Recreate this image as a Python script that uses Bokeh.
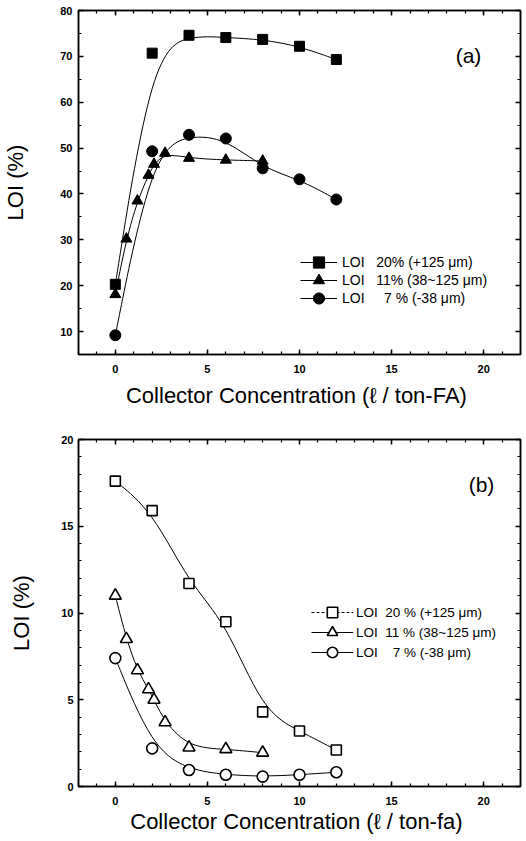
import numpy as np
from bokeh.plotting import figure
from bokeh.layouts import column
from bokeh.models import (Range1d, LinearAxis, SingleIntervalTicker, Legend,
                          LegendItem, Label, CustomLabelingPolicy)
from bokeh.embed import file_html
from bokeh.resources import INLINE

# ---------------- data ----------------
# panel (a)
a_sq_x = [0, 2, 4, 6, 8, 10, 12]
a_sq_y = [20.3, 70.7, 74.6, 74.1, 73.7, 72.2, 69.3]
a_tri_x = [0, 0.6, 1.2, 1.8, 2.1, 2.7, 4, 6, 8]
a_tri_y = [18.1, 30.2, 38.5, 44.1, 46.5, 48.9, 47.8, 47.4, 47.2]
a_cir_x = [0, 2, 4, 6, 8, 10, 12]
a_cir_y = [9.2, 49.3, 52.9, 52.1, 45.6, 43.2, 38.8]
a_labels = ["LOI\u00a0\u00a0\u00a020% (+125 \u03bcm)",
            "LOI\u00a0\u00a0\u00a011% (38~125 \u03bcm)",
            "LOI\u00a0\u00a0\u00a0\u20077 % (-38 \u03bcm)"]

# panel (b)
b_sq_x = [0, 2, 4, 6, 8, 10, 12]
b_sq_y = [17.6, 15.9, 11.7, 9.5, 4.3, 3.2, 2.1]
b_tri_x = [0, 0.6, 1.2, 1.8, 2.1, 2.7, 4, 6, 8]
b_tri_y = [11.0, 8.5, 6.7, 5.6, 5.0, 3.7, 2.25, 2.15, 1.95]
b_cir_x = [0, 2, 4, 6, 8, 10, 12]
b_cir_y = [7.4, 2.2, 0.95, 0.68, 0.57, 0.68, 0.82]
b_labels = ["LOI\u00a0\u00a020 % (+125 \u03bcm)",
            "LOI\u00a0\u00a011 % (38~125 \u03bcm)",
            "LOI\u00a0\u00a0\u20077 % (-38 \u03bcm)"]

FONT = "Liberation Sans"


def bspline_bezier(xs, ys):
    """Cubic B-spline (end points tripled) with the data as control
    points, returned as Bezier segments for p.bezier."""
    px = [xs[0]] * 2 + list(xs) + [xs[-1]] * 2
    py = [ys[0]] * 2 + list(ys) + [ys[-1]] * 2
    out = {k: [] for k in ("x0", "y0", "x1", "y1", "cx0", "cy0", "cx1", "cy1")}
    for i in range(len(px) - 3):
        for arr, kx in ((px, "x"), (py, "y")):
            p0, p1, p2, p3 = arr[i:i + 4]
            out[kx + "0"].append((p0 + 4 * p1 + p2) / 6)
            out["c" + kx + "0"].append((2 * p1 + p2) / 3)
            out["c" + kx + "1"].append((p1 + 2 * p2) / 3)
            out[kx + "1"].append((p1 + 4 * p2 + p3) / 6)
    return out


NO_LABELS = CustomLabelingPolicy(code="return new Set()")


def style_axis(ax, labels=True):
    ax.axis_line_color = "black"
    ax.axis_line_width = 1.5
    ax.major_tick_line_color = "black"
    ax.major_tick_line_width = 1.5
    ax.minor_tick_line_color = "black"
    ax.minor_tick_line_width = 1.2
    ax.major_tick_in = 5
    ax.major_tick_out = 0
    ax.minor_tick_in = 3
    ax.minor_tick_out = 0
    ax.major_label_text_font = FONT
    ax.major_label_text_font_style = "bold"
    ax.major_label_text_color = "black"
    ax.axis_label_text_font = FONT
    ax.axis_label_text_font_style = "normal"
    ax.axis_label_text_font_size = "22px"
    ax.axis_label_text_color = "black"
    if labels:
        ax.major_label_text_font_size = "11px"
    else:
        ax.major_label_text_font_size = "1px"
        ax.major_label_policy = NO_LABELS
        ax.major_label_standoff = 0


def make_panel(h, bt, bb, bl, yr, y_int, y_minor, xlabel,
               sx, sy, tx, ty, cx, cy, filled, labels, opt, tag):
    p = figure(width=524, height=h, x_range=Range1d(-2, 22),
               y_range=Range1d(*yr), output_backend="svg",
               toolbar_location=None, min_border_left=bl,
               min_border_right=2, min_border_top=bt, min_border_bottom=bb)
    p.grid.visible = False
    p.outline_line_color = "black"
    p.outline_line_width = 1.5
    p.background_fill_color = "white"
    p.border_fill_color = "white"

    p.xaxis.ticker = SingleIntervalTicker(interval=5, num_minor_ticks=5)
    p.yaxis.ticker = SingleIntervalTicker(interval=y_int,
                                          num_minor_ticks=y_minor)
    p.xaxis.axis_label = xlabel
    p.yaxis.axis_label = "LOI (%)"
    for ax in p.xaxis + p.yaxis:
        style_axis(ax)
    p.xaxis.major_label_standoff = 10
    p.xaxis.axis_label_standoff = opt["xls"]
    p.yaxis.major_label_standoff = opt["yms"]
    p.yaxis.axis_label_standoff = opt["yls"]

    top = LinearAxis(ticker=SingleIntervalTicker(interval=5, num_minor_ticks=5))
    right = LinearAxis(ticker=SingleIntervalTicker(interval=y_int,
                                                   num_minor_ticks=y_minor))
    for ax in (top, right):
        style_axis(ax, labels=False)
    p.add_layout(top, "above")
    p.add_layout(right, "right")

    # smooth connecting curves
    for xs, ys in ((sx, sy), (tx, ty), (cx, cy)):
        seg = bspline_bezier(xs, ys)
        p.bezier(source=seg, x0="x0", y0="y0", x1="x1", y1="y1",
                 cx0="cx0", cy0="cy0", cx1="cx1", cy1="cy1",
                 line_color="black", line_width=1)

    fill = "black" if filled else "white"
    lw = 1 if filled else 1.6
    r_sq = p.scatter(sx, sy, marker="square", size=10, fill_color=fill,
                     line_color="black", line_width=lw)
    r_tr = p.scatter(tx, ty, marker="triangle", size=11 if filled else 12,
                     fill_color=fill, line_color="black", line_width=lw)
    r_ci = p.scatter(cx, cy, marker="circle", size=11, fill_color=fill,
                     line_color="black", line_width=lw)

    # one-point lines: draw nothing in the plot, give the legend its line
    l1 = p.line(x=sx[:1], y=sy[:1], line_color="black", line_width=1,
                line_dash=opt["dash0"])
    l2 = p.line(x=tx[:1], y=ty[:1], line_color="black", line_width=1)
    l3 = p.line(x=cx[:1], y=cy[:1], line_color="black", line_width=1)

    for lab, rends, yloc in zip(labels, ([l1, r_sq], [l2, r_tr], [l3, r_ci]),
                                opt["ys"]):
        legend = Legend(items=[LegendItem(label=lab, renderers=rends)],
                        location=(opt["lx"], yloc),
                        glyph_width=opt["gw"], glyph_height=opt["gh"],
                        spacing=0, label_standoff=opt["ls"],
                        label_height=14, padding=0, margin=0,
                        border_line_alpha=0, background_fill_alpha=0,
                        label_text_font=FONT,
                        label_text_font_size=opt["lfs"],
                        label_text_color="black")
        p.add_layout(legend)

    p.add_layout(Label(x=opt["tag"][0], y=opt["tag"][1], x_units="screen",
                       y_units="screen", text=tag, text_font=FONT,
                       text_font_size="21px", text_align="center",
                       text_baseline="middle", text_color="black"))
    return p


pa = make_panel(421, 10, 67, 76, (5, 80), 10, 2,
                "Collector Concentration (\u2113  / ton-FA)",
                a_sq_x, a_sq_y, a_tri_x, a_tri_y, a_cir_x, a_cir_y, True,
                a_labels,
                dict(lx=222, ys=(78, 60, 42), gw=37, gh=28, ls=5,
                     lfs="14px", dash0="solid", tag=(390, 299), xls=7,
                     yms=6, yls=29),
                "(a)")
pb = make_panel(419, 18, 54, 70, (0, 20), 5, 5,
                "Collector Concentration (\u2113  / ton-fa)",
                b_sq_x, b_sq_y, b_tri_x, b_tri_y, b_cir_x, b_cir_y, False,
                b_labels,
                dict(lx=233, ys=(161, 141, 121), gw=42, gh=26, ls=3,
                     lfs="13.5px", dash0="3 2", tag=(403, 302), xls=1,
                     yms=5, yls=24),
                "(b)")

layout = column(pa, pb, spacing=0)
open("out.html", "w").write(file_html(layout, INLINE))
